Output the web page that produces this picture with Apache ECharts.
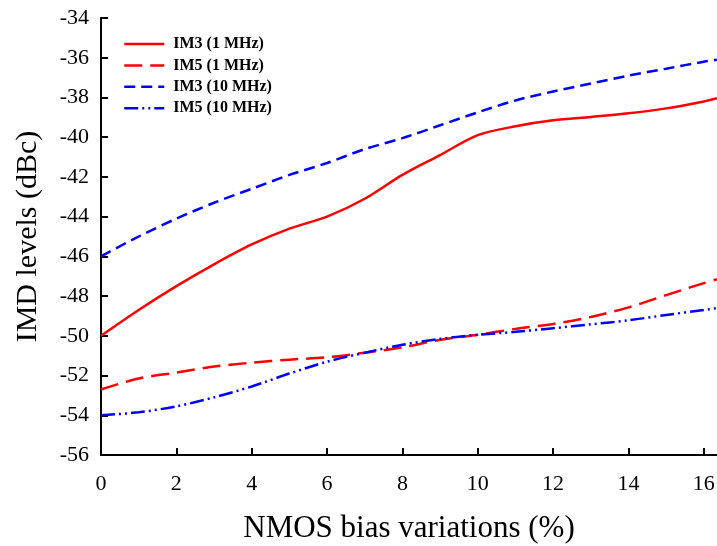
<!DOCTYPE html>
<html>
<head>
<meta charset="utf-8">
<script src="https://cdn.jsdelivr.net/npm/echarts@6/dist/echarts.min.js"></script>
<style>html,body{margin:0;padding:0;background:#fff}#c{width:717px;height:546px}</style>
</head>
<body>
<div id="c"></div>
<script>
var xValues = [0,1,2,3,4,5,6,7,8,9,10,11,12,13,14,15,16,16.35];
var im3_1MHz  = [-50,-48.7,-47.5,-46.4,-45.4,-44.6,-44.0,-43.1,-41.9,-40.9,-39.9,-39.45,-39.15,-38.98,-38.8,-38.55,-38.2,-38.04];
var im5_1MHz  = [-52.7,-52.15,-51.85,-51.55,-51.35,-51.2,-51.08,-50.85,-50.58,-50.2,-49.95,-49.65,-49.4,-49.05,-48.57,-47.95,-47.35,-47.15];
var im3_10MHz = [-46,-45,-44.1,-43.3,-42.6,-41.9,-41.3,-40.6,-40.05,-39.4,-38.75,-38.15,-37.7,-37.3,-36.9,-36.55,-36.2,-36.1];
var im5_10MHz = [-54,-53.85,-53.55,-53.1,-52.55,-51.9,-51.3,-50.85,-50.45,-50.15,-49.95,-49.8,-49.62,-49.42,-49.22,-48.95,-48.7,-48.6];
var seriesNames = ['IM3 (1 MHz)','IM5 (1 MHz)','IM3 (10 MHz)','IM5 (10 MHz)'];
var xTicks = [0,2,4,6,8,10,12,14,16];

var font = 'Liberation Serif';
var colors = ['#ff0000','#ff0000','#0000ff','#0000ff'];
var dashes = ['solid',[18,8],[11,6],[14,4,2,4,2,4]];
var seriesValues = [im3_1MHz, im5_1MHz, im3_10MHz, im5_10MHz];

function pairs(ys){ return xValues.map(function(x,i){ return [x, ys[i]]; }); }
var series = seriesNames.map(function(n,i){
  return {name:n, type:'line', data:pairs(seriesValues[i]), symbol:'none', smooth:0.3,
    lineStyle:{color:colors[i], width:2.5, type:dashes[i]}, itemStyle:{color:colors[i]}};
});
var legendData = seriesNames.map(function(n,i){
  return {name:n, itemStyle:{opacity:0}, lineStyle:{color:colors[i], width:2.5, type:dashes[i]}};
});
var chart = echarts.init(document.getElementById('c'));
chart.setOption({
  animation:false,
  grid:{left:101, top:18, right:0, bottom:91, outerBoundsMode:'none', containLabel:false},
  legend:{orient:'vertical', left:118, top:31, itemWidth:40, itemHeight:14, itemGap:5.4,
    itemStyle:{opacity:0},
    textStyle:{fontFamily:font, fontWeight:'bold', fontSize:16, color:'#000', padding:[0,0,0,4]},
    data:legendData},
  xAxis:{type:'value', min:0, max:16.35,
    name:'NMOS bias variations (%)', nameLocation:'middle', nameGap:58,
    nameTextStyle:{fontFamily:font, fontSize:31, color:'#000'},
    axisLine:{lineStyle:{color:'#000', width:2}},
    axisTick:{inside:true, length:7, lineStyle:{color:'#000', width:2}, customValues:xTicks},
    axisLabel:{fontFamily:font, fontSize:22, color:'#000', margin:18, customValues:xTicks},
    splitLine:{show:false}},
  yAxis:{type:'value', min:-56, max:-34, interval:2,
    name:'IMD levels (dBc)', nameLocation:'middle', nameGap:58,
    nameTextStyle:{fontFamily:font, fontSize:30, color:'#000'},
    axisLine:{show:true, lineStyle:{color:'#000', width:2}},
    axisTick:{show:true, inside:true, length:7, lineStyle:{color:'#000', width:2}},
    axisLabel:{fontFamily:font, fontSize:22, color:'#000', margin:12},
    splitLine:{show:false}},
  series:series
});
</script>
</body>
</html>
